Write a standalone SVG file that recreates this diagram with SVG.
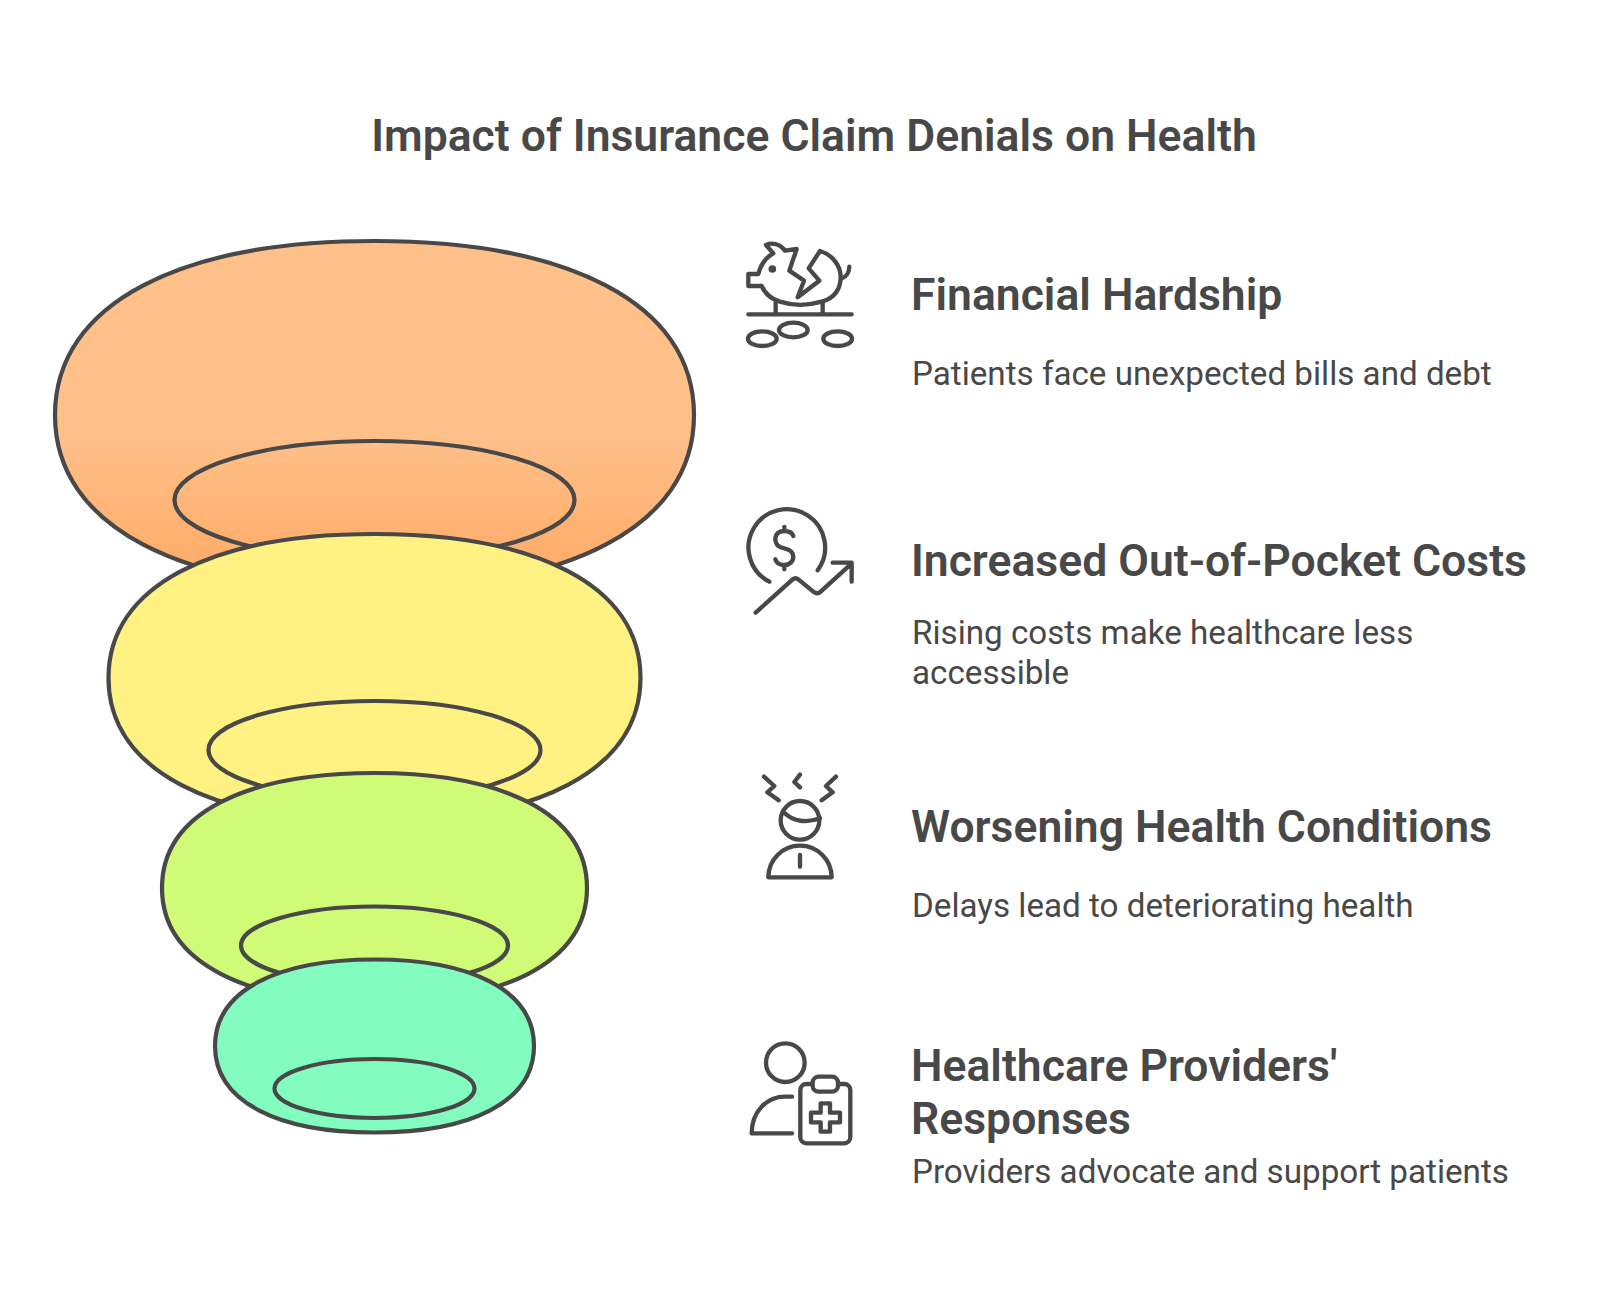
<svg xmlns="http://www.w3.org/2000/svg" width="1600" height="1306" viewBox="0 0 1600 1306">
<style>
text{font-family:Roboto,"Liberation Sans",sans-serif;fill:#484848}
.t{font-size:44.500px;font-weight:600}
.h{font-size:44.500px;font-weight:600}
.b{font-size:33.200px;font-weight:400}
.s{stroke:#484848;stroke-width:4.200;stroke-linejoin:round}
.i{fill:none;stroke:#484848;stroke-width:13;stroke-linecap:round;stroke-linejoin:round}
</style>
<defs><linearGradient id="g" x1="0" y1="0" x2="0" y2="1"><stop offset="0.55" stop-color="#ffc08a"/><stop offset="1" stop-color="#ffa964"/></linearGradient></defs>
<rect width="1600" height="1306" fill="#fff"/>
<text class="t" x="814" y="151" text-anchor="middle">Impact of Insurance Claim Denials on Health</text>
<g id="funnel-orange">
<path class="s" fill="url(#g)" d="M55 415C55 302 182.800 241 374.500 241C566.200 241 694 302 694 415C694 528 566.200 589 374.500 589C182.800 589 55 528 55 415Z"/>
<ellipse class="s" cx="374.500" cy="500" rx="200" ry="59" fill="none"/>
</g>
<g id="funnel-yellow">
<path class="s" fill="#fff182" d="M108.500 678C108.500 584.400 214.600 534 374.500 534C534.400 534 640.500 584.400 640.500 678C640.500 771.600 534.400 822 374.500 822C214.600 822 108.500 771.600 108.500 678Z"/>
<ellipse class="s" cx="374.500" cy="750" rx="166" ry="49" fill="none"/>
</g>
<g id="funnel-green">
<path class="s" fill="#cffb76" d="M162 888C162 813.250 246.400 773 374.500 773C502.600 773 587 813.250 587 888C587 962.750 502.600 1003 374.500 1003C246.400 1003 162 962.750 162 888Z"/>
<ellipse class="s" cx="374.500" cy="945.500" rx="133.500" ry="39" fill="none"/>
</g>
<g id="funnel-teal">
<path class="s" fill="#83fcbf" d="M215 1046C215 989.800 278.800 959.500 374.500 959.500C470.200 959.500 534 989.800 534 1046C534 1102.200 470.200 1132.500 374.500 1132.500C278.800 1132.500 215 1102.200 215 1046Z"/>
<ellipse class="s" cx="374.500" cy="1088.500" rx="100" ry="29.500" fill="none"/>
</g>
<g id="item-1">
<g class="i" transform="translate(730 220) scale(.3333)">
<path d="M108 75C125 68 148 70 165 92L200 87L178 152L222 182L203 232L268 182L236 145L270 93C310 105 332 140 332 170C332 210 310 235 275 245C230 258 190 258 150 245C125 238 105 220 95 198H55V162H85C92 135 108 112 130 100Z"/>
<path d="M335 175C350 170 358 155 358 140M137 248V283M278 248V283M55 283H365"/>
<circle cx="127" cy="147" r="5" fill="#484848"/>
<ellipse cx="97" cy="356" rx="43" ry="22"/><ellipse cx="190" cy="330" rx="43" ry="22"/><ellipse cx="323" cy="356" rx="43" ry="22"/>
</g>
<text class="h" x="911" y="310">Financial Hardship</text>
<text class="b" x="912" y="385">Patients face unexpected bills and debt</text>
</g>
<g id="item-2">
<g class="i" transform="translate(730 491) scale(.3333)">
<path d="M118 272A115 115 0 1 1 263 238"/>
<path d="M190 135C185 122 175 120 163 120C145 120 136 130 136 145C136 165 150 170 163 172C178 175 190 182 190 198C190 212 178 222 163 222C150 222 140 218 136 205M163 108V120M163 222V235"/>
<path d="M77 365L188 265Q196 258 205 265L250 302Q262 312 272 302L362 220M308 215H365V272"/>
</g>
<text class="h" x="911" y="576">Increased Out-of-Pocket Costs</text>
<text class="b" x="912" y="644">Rising costs make healthcare less</text>
<text class="b" x="912" y="684">accessible</text>
</g>
<g id="item-3">
<g class="i" transform="translate(730 760) scale(.3333)">
<path d="M102 50L133 78L112 97L146 121M210 44L193 66L210 82M318 50L288 78L308 97L275 121"/>
<circle cx="210" cy="181" r="58"/>
<path d="M163 158C190 185 230 190 270 175"/>
<path d="M115 352A95 95 0 0 1 305 352ZM210 285V320"/>
</g>
<text class="h" x="911" y="842">Worsening Health Conditions</text>
<text class="b" x="912" y="917">Delays lead to deteriorating health</text>
</g>
<g id="item-4">
<g class="i" transform="translate(730 1030) scale(.3333)">
<circle cx="166" cy="98" r="58"/>
<path d="M186 200H165C110 200 65 245 65 310H186"/>
<rect x="211" y="162" width="150" height="178" rx="18"/>
<rect x="248" y="140" width="76" height="45" rx="18" fill="#fff"/>
<path d="M272 220H300V248H330V277H300V305H272V277H243V248H272Z"/>
</g>
<text class="h" x="911" y="1081">Healthcare Providers'</text>
<text class="h" x="911" y="1134">Responses</text>
<text class="b" x="912" y="1183">Providers advocate and support patients</text>
</g>
</svg>
